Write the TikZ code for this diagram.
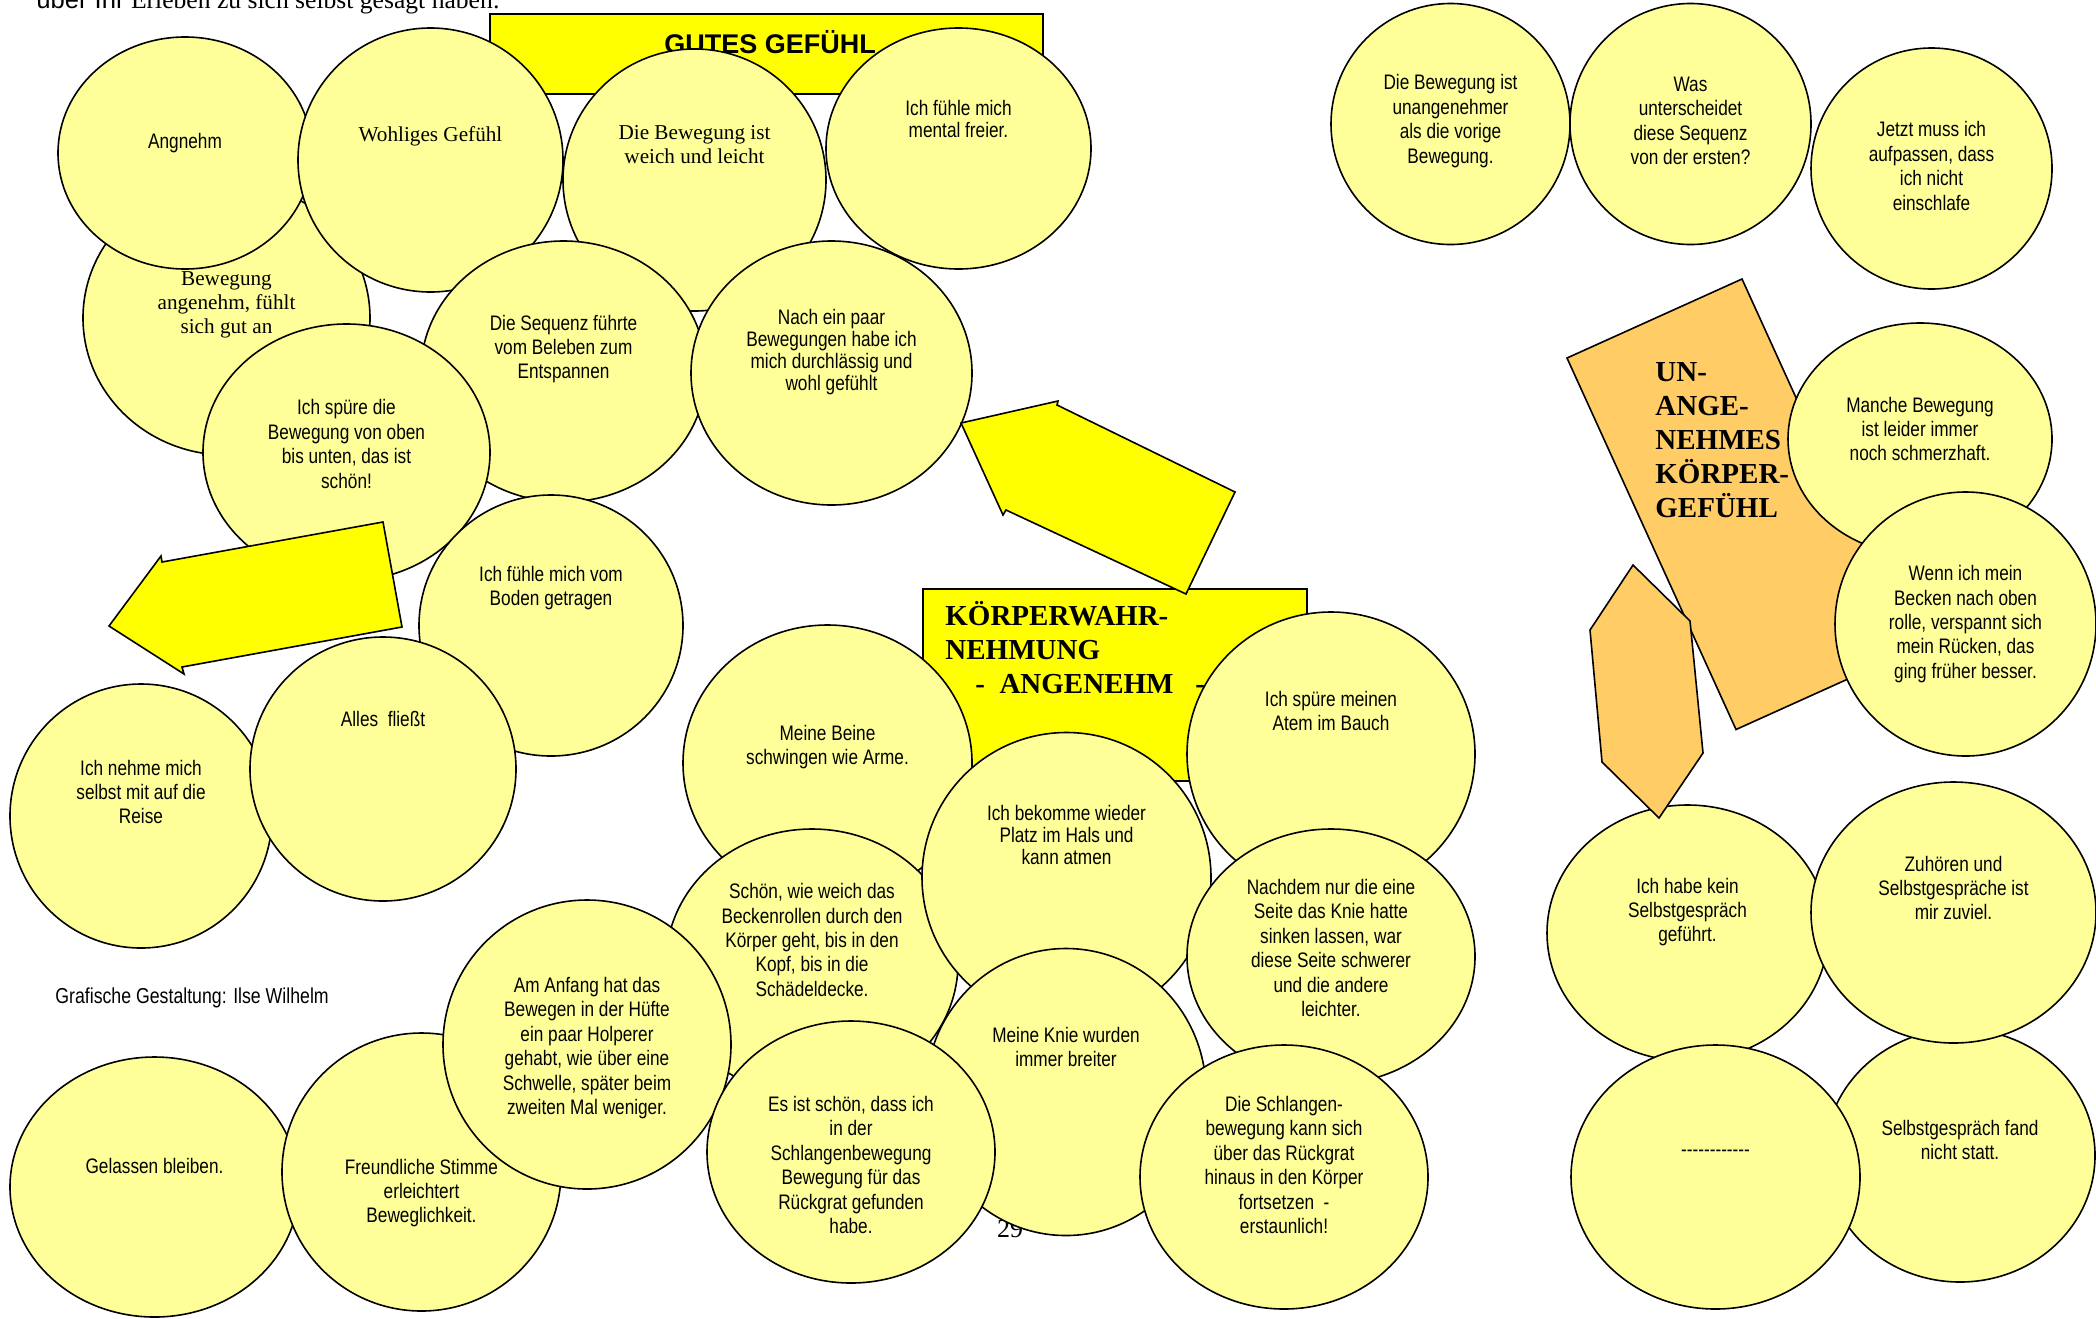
\documentclass[tikz,border=0pt]{standalone}
\usepackage{fontspec}
\setmainfont{Liberation Serif}
\newfontfamily\narrowsans[FakeStretch=0.82]{Liberation Sans}
\newfontfamily\plainsans{Liberation Sans}

\definecolor{bubble}{HTML}{FFFF99}
\definecolor{signal}{HTML}{FFFF00}
\definecolor{apricot}{HTML}{FFCC66}

% one speech bubble: [text style]{name}{cx}{cy}{rx}{ry}{text y}{text}
\newcommand\bubble[8][nar]{%
  \path[bub] (#3,#4) ellipse [x radius=#5, y radius=#6];
  \node[#1] (#2) at (#3,#7) {#8};}

\begin{document}
\begin{tikzpicture}[x=0.5pt,y=-0.5pt,
  bub/.style={draw=black, fill=bubble, line width=0.8pt},
  panel/.style={draw=black, fill=signal, line width=0.8pt},
  bigarrow/.style={draw=black, fill=signal, line width=0.8pt, line join=miter},
  warnshape/.style={draw=black, fill=apricot, line width=0.8pt, line join=miter},
  nar/.style={font=\narrowsans\fontsize{10.5}{12.2}\selectfont, align=center, inner sep=0pt},
  nartight/.style={font=\narrowsans\fontsize{10.5}{10.9}\selectfont, align=center, inner sep=0pt},
  ser/.style={font=\fontsize{10.6}{12}\selectfont, align=center, inner sep=0pt},
  heading/.style={font=\bfseries\fontsize{14.5}{17}\selectfont, inner sep=0pt, anchor=base west}]

\fill[white] (0,0) rectangle (2096,1318);
\useasboundingbox (0,0) rectangle (2096,1318);

% running text cut at the top edge
\node[anchor=base west, inner sep=0pt, font=\fontsize{12.8}{15}\selectfont] (intro) at (36,8)
  {{\plainsans über Ihr} Erleben zu sich selbst gesagt haben:};

% heading panel "GUTES GEFÜHL"
\path[panel] (490,14) rectangle (1043,94);
\node[anchor=base, inner sep=0pt, font=\plainsans\bfseries\fontsize{13.5}{16}\selectfont] (gut) at (770,53) {GUTES GEFÜHL};

% page number, mostly hidden
\node[anchor=base, inner sep=0pt, font=\fontsize{13}{15}\selectfont] (pagenum) at (1010,1237) {29};

% heading panel "KÖRPERWAHRNEHMUNG - ANGENEHM -"
\path[panel] (923,589) rectangle (1307,781);
\node[heading] (kw) at (945,625)
  {\begin{tabular}[t]{@{}l@{}}KÖRPERWAHR-\\NEHMUNG\\\hspace*{15pt}-\ \ ANGENEHM\ \ \ -\end{tabular}};

% orange panel "UNANGENEHMES KÖRPERGEFÜHL"
\path[warnshape] (1567,358) -- (1742,279) -- (1911,650.5) -- (1736,729.5) -- cycle;
\node[heading] (un) at (1655,381)
  {\begin{tabular}[t]{@{}l@{}}UN-\\ANGE-\\NEHMES\\KÖRPER-\\GEFÜHL\end{tabular}};

% pleasant body feeling
\bubble[ser]{angenehm}{226.5}{318}{143.5}{137}{305}{Bewegung\\angenehm, fühlt\\sich gut an}
\bubble{angnehm}{185}{153}{127}{116}{143}{Angnehm}
\bubble[ser]{wohlig}{430.5}{160}{132.5}{132}{136}{Wohliges Gefühl}
\bubble[ser]{weich}{694.5}{180}{131.5}{131}{145}{Die Bewegung ist\\weich und leicht}
\bubble[nartight]{freier}{958.5}{148.5}{132.5}{120.5}{119}{Ich fühle mich\\mental freier.}
\bubble{sequenz}{563.5}{371.5}{142.5}{130.5}{349}{Die Sequenz führte\\vom Beleben zum\\Entspannen}
\bubble[nartight]{durchlaessig}{831.5}{373}{140.5}{132}{352}{Nach ein paar\\Bewegungen habe ich\\mich durchlässig und\\wohl gefühlt}
\bubble{obenunten}{346.5}{452.5}{143.5}{128.5}{444}{Ich spüre die\\Bewegung von oben\\bis unten, das ist\\schön!}
\bubble{boden}{551}{625.5}{132}{130.5}{588}{Ich fühle mich vom\\Boden getragen}
\bubble{reise}{141}{816}{131}{132}{792}{Ich nehme mich\\selbst mit auf die\\Reise}
\bubble{fliesst}{383}{769}{133}{132}{719}{Alles\ \ fließt}
\bubble{gelassen}{154.5}{1187}{144.5}{130}{1166}{Gelassen bleiben.}
\bubble{stimme}{421.5}{1172}{139.5}{139}{1193}{Freundliche Stimme\\erleichtert\\Beweglichkeit.}
\bubble{beine}{827.5}{763}{144.5}{138}{747}{Meine Beine\\schwingen wie Arme.}
\bubble{becken}{812}{963}{146}{134}{940}{Schön, wie weich das\\Beckenrollen durch den\\Körper geht, bis in den\\Kopf, bis in die\\Schädeldecke.}
\bubble{anfang}{587}{1044.5}{144}{144.5}{1048}{Am Anfang hat das\\Bewegen in der Hüfte\\ein paar Holperer\\gehabt, wie über eine\\Schwelle, später beim\\zweiten Mal weniger.}
\bubble[nartight]{hals}{1066.5}{877.5}{144.5}{145}{835}{Ich bekomme wieder\\Platz im Hals und\\kann atmen}
\bubble{knie}{1066}{1092}{140}{143.5}{1047}{Meine Knie wurden\\immer breiter}
\bubble{schlange}{851}{1152}{144}{131}{1165}{Es ist schön, dass ich\\in der\\Schlangenbewegung\\Bewegung für das\\Rückgrat gefunden\\habe.}
\bubble{atem}{1331}{754}{144}{142}{711}{Ich spüre meinen\\Atem im Bauch}
\bubble{seite}{1331}{956.5}{144}{127.5}{948}{Nachdem nur die eine\\Seite das Knie hatte\\sinken lassen, war\\diese Seite schwerer\\und die andere\\leichter.}
\bubble{rueckgrat}{1284}{1177}{144}{132}{1165}{Die Schlangen-\\bewegung kann sich\\über das Rückgrat\\hinaus in den Körper\\fortsetzen\ \ -\\erstaunlich!}

% unpleasant body feeling
\bubble{unangenehm}{1450.5}{124}{119.5}{120.5}{121}{Die Bewegung ist\\unangenehmer\\als die vorige\\Bewegung.}
\bubble{unterschied}{1690.5}{124}{120.5}{120.5}{121}{Was\\unterscheidet\\diese Sequenz\\von der ersten?}
\bubble{einschlafen}{1931.5}{168.5}{120.5}{120.5}{166}{Jetzt muss ich\\aufpassen, dass\\ich nicht\\einschlafe}
\bubble{schmerz}{1920}{439}{132}{116}{429}{Manche Bewegung\\ist leider immer\\noch schmerzhaft.}
\bubble{ruecken}{1965.5}{624}{130.5}{132}{624}{Wenn ich mein\\Becken nach oben\\rolle, verspannt sich\\mein Rücken, das\\ging früher besser.}

% no self-talk
\bubble{keinGespraech}{1687.5}{933}{140.5}{128}{912}{Ich habe kein\\Selbstgespräch\\geführt.}
\bubble{nichtStatt}{1960}{1155.5}{135}{126.5}{1140}{Selbstgespräch fand\\nicht statt.}
\bubble{zuviel}{1953.5}{912.5}{142.5}{130.5}{888}{Zuhören und\\Selbstgespräche ist\\mir zuviel.}
\bubble{leer}{1715.5}{1177}{144.5}{132}{1153}{-\kern0pt-\kern0pt-\kern0pt-\kern0pt-\kern0pt-\kern0pt-\kern0pt-\kern0pt-\kern0pt-\kern0pt-\kern0pt-}

% small orange hexagon
\path[warnshape] (1633,565) -- (1690,621) -- (1703,753) -- (1659,818) -- (1602,762) -- (1590,630) -- cycle;

% block arrows
\path[bigarrow] (109,626) -- (161,556) -- (162,562) -- (383,522) -- (402,627) -- (182,667) -- (184,674) -- cycle;
\path[bigarrow] (961,423) -- (1058,401) -- (1057,405) -- (1235,492) -- (1186,594) -- (1006,510) -- (1003,515) -- cycle;

% credit line
\node[anchor=west, inner sep=0pt, font=\narrowsans\fontsize{10.8}{13}\selectfont] (credit) at (55,998) {Grafische Gestaltung: Ilse Wilhelm};
\end{tikzpicture}
\end{document}
